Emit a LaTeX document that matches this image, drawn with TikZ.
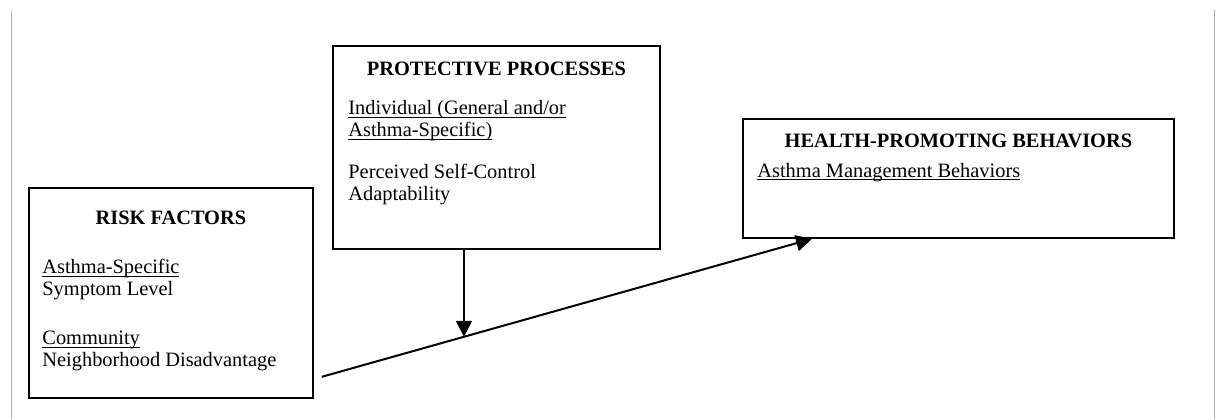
\documentclass[tikz,border=0pt]{standalone}
\usepackage{amsmath}
\usepackage{fontspec}
\setmainfont{Liberation Serif}
\usetikzlibrary{arrows.meta,calc}

\newcommand{\lineunder}[1]{\underline{\smash[b]{#1}}}

\begin{document}
\begin{tikzpicture}[
  x=0.5pt, y=-0.5pt,
  >={Triangle[length=8pt,width=8pt]},
  box/.style={draw,line width=0.9pt,anchor=north west,inner sep=0pt},
  heading/.style={font=\fontsize{10.2pt}{11pt}\selectfont\bfseries,inner sep=0pt,anchor=base},
  body/.style={font=\fontsize{10.2pt}{11pt}\selectfont,align=left,inner sep=0pt,anchor=north west},
  link/.style={->,line width=1pt}
]
\useasboundingbox (0,0) rectangle (1217,419);

% page frame
\draw[gray!60,line width=0.5pt] (11,11) -- (11,419);
\draw[gray!60,line width=0.5pt] (1214,10) -- (1214,419);

%--------------------
% risk factors
%--------------------
\node[box,minimum width=142pt,minimum height=105pt] (risk) at (28,187) {};
\node[heading] (riskhead) at ($(risk.north)+(0,37)$) {RISK FACTORS};
\node[body] (risklist) at (42,259)
  {\lineunder{Asthma-Specific}\\Symptom Level\\[13.5pt]
   \lineunder{Community}\\Neighborhood Disadvantage};

%--------------------
% protective processes
%--------------------
\node[box,minimum width=163.5pt,minimum height=101.5pt] (prot) at (332,45) {};
\node[heading] (prothead) at ($(prot.north)+(0,30)$) {PROTECTIVE PROCESSES};
\node[body] (protlist) at (348,100)
  {\lineunder{Individual (General and/or}\\\lineunder{Asthma-Specific)}\\[10pt]
   Perceived Self-Control\\Adaptability};

%--------------------
% health-promoting behaviors
%--------------------
\node[box,minimum width=215.5pt,minimum height=59.5pt] (health) at (742,118) {};
\node[heading] (healthhead) at ($(health.north)+(0,29)$) {HEALTH-PROMOTING BEHAVIORS};
\node[body,anchor=base west] (healthlist) at (757,177) {\lineunder{Asthma Management Behaviors}};

% main path and moderating arrow
\coordinate (start) at ($(risk.south east)+(8,-22)$);
\coordinate (finish) at ($(health.south west)+(70,0)$);
\coordinate (meet) at ($(start)!0.29!(finish)$);
\draw[link] (start) -- (finish);
\draw[link] (prot.south -| meet) -- (meet);

\end{tikzpicture}
\end{document}
